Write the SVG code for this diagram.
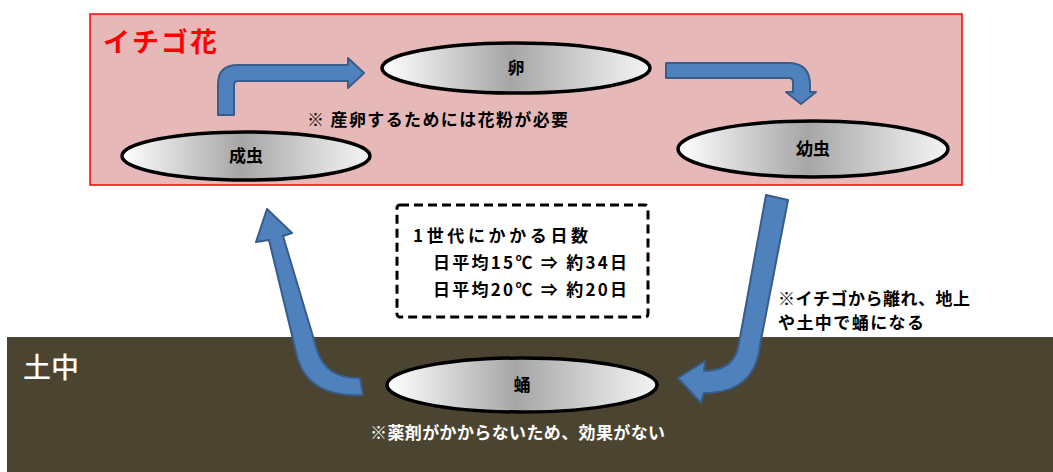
<svg xmlns="http://www.w3.org/2000/svg" width="1053" height="472" viewBox="0 0 1053 472">
<defs>
<linearGradient id="g" x1="0" y1="0" x2="1" y2="0">
<stop offset="0" stop-color="#ffffff"/>
<stop offset="0.48" stop-color="#a6a6a6"/>
<stop offset="0.8" stop-color="#d8d8d8"/>
<stop offset="1" stop-color="#f4f4f4"/>
</linearGradient>
</defs>
<style>
.t{font-family:"Noto Sans CJK JP","Noto Sans",sans-serif;font-weight:bold;fill:#000;}
.node{fill:url(#g);stroke:#000;stroke-width:3.5;}
.arrow{fill:#4f81bd;stroke:#385d8a;stroke-width:2;stroke-linejoin:round;}
.lbl{font-size:17px;text-anchor:middle;}
</style>
<rect width="1053" height="472" fill="#ffffff"/>
<rect x="90" y="14" width="872" height="171" fill="#e6b9b8" stroke="#ff0000" stroke-width="1.5"/>
<rect x="7" y="337" width="1046" height="135" fill="#4a4430"/>
<text x="103" y="52" class="t" style="font-size:27px;fill:#ff0000" textLength="114">イチゴ花</text>
<text x="23" y="378" class="t" style="font-size:28px;font-weight:500;fill:#ffffff">土中</text>
<g id="connectors">
<path class="arrow" d="M218,115 L218,84 Q218,65 238,65 L348,65 L348,58 L364,73 L348,88 L348,81 L238,81 Q234,81 234,85 L234,115 Z"/>
<path class="arrow" d="M666,63 L788,63 Q810,63 810,85 L810,92 L816,92 L801,104 L786,92 L793,92 L793,82 Q793,78 789,78 L666,78 Z"/>
<path class="arrow" d="M766,195 L788,200 L760,345 Q755,393 704,393 L701,403 L678,378 L705,361 L704,371 Q735,371 739,343 Z"/>
<path class="arrow" d="M269,240 L256,242 L267,209 L292,233 L283,236 L317,350 Q326,379 360,378 L363,395 Q311,398 298,360 Z"/>
</g>
<g id="node-seichu">
<ellipse class="node" cx="246" cy="156" rx="124" ry="24"/>
<text x="246" y="162" class="t lbl">成虫</text>
</g>
<g id="node-tamago">
<ellipse class="node" cx="516" cy="68" rx="134" ry="25"/>
<text x="516" y="74" class="t lbl">卵</text>
</g>
<g id="node-yochu">
<ellipse class="node" cx="813" cy="149" rx="135" ry="28"/>
<text x="813" y="155" class="t lbl">幼虫</text>
</g>
<g id="node-sanagi">
<ellipse class="node" cx="522" cy="385" rx="135" ry="27"/>
<text x="522" y="391" class="t lbl">蛹</text>
</g>
<text x="307" y="126" class="t" style="font-size:17px" textLength="261">※ 産卵するためには花粉が必要</text>
<text x="778" y="305" class="t" style="font-size:17px" textLength="192">※イチゴから離れ、地上</text>
<text x="778" y="329" class="t" style="font-size:17px" textLength="146">や土中で蛹になる</text>
<text x="370" y="439" class="t" style="font-size:17px;fill:#ffffff" textLength="295">※薬剤がかからないため、効果がない</text>
<g id="note">
<rect x="397" y="205" width="251" height="112" rx="3" fill="none" stroke="#000" stroke-width="3" stroke-dasharray="9,5"/>
<text x="413" y="242" class="t" style="font-size:17px" textLength="175">1世代にかかる日数</text>
<text x="433" y="269" class="t" style="font-size:17px" textLength="194">日平均15℃ ⇒ 約34日</text>
<text x="433" y="296" class="t" style="font-size:17px" textLength="194">日平均20℃ ⇒ 約20日</text>
</g>
</svg>
